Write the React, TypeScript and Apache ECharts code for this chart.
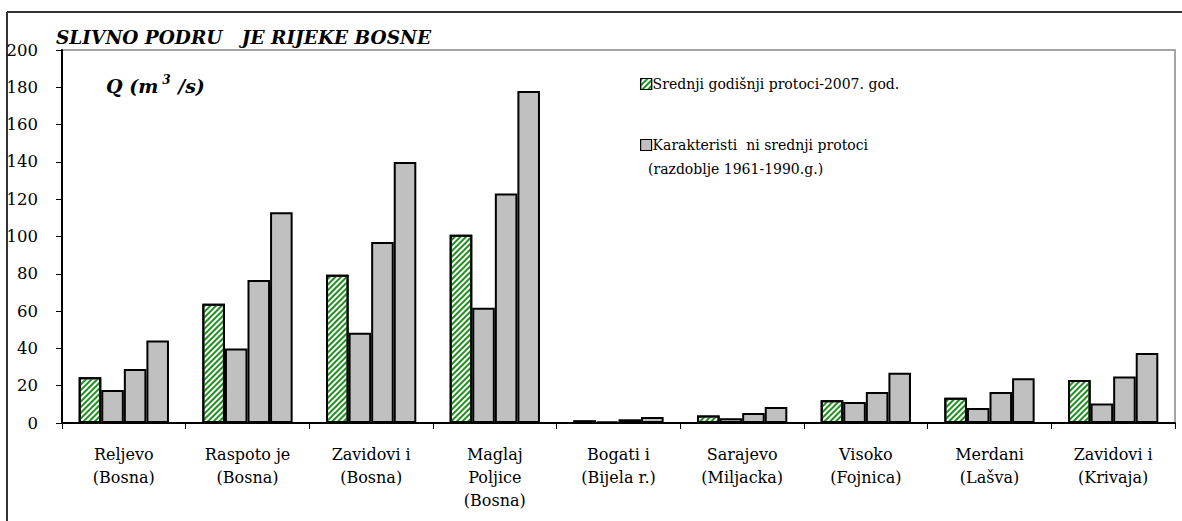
import React, { useEffect, useRef } from "react";
import * as echarts from "echarts";

const categories = [
  "Reljevo\n(Bosna)",
  "Raspoto je\n(Bosna)",
  "Zavidovi i\n(Bosna)",
  "Maglaj\nPoljice\n(Bosna)",
  "Bogati i\n(Bijela r.)",
  "Sarajevo\n(Miljacka)",
  "Visoko\n(Fojnica)",
  "Merdani\n(Lašva)",
  "Zavidovi i\n(Krivaja)",
];
const mean2007 = [24.5, 64, 79.5, 101, 1.4, 4, 12.2, 13.5, 23];
const charLow = [17.7, 40, 48.4, 61.8, 0.9, 2.5, 11.2, 8, 10.4];
const charMean = [29, 76.7, 97, 123, 2, 5.4, 16.6, 16.6, 25];
const charHigh = [44.2, 113, 140, 178, 3.2, 8.6, 27, 24, 37.5];
const name2007 = "Srednji godišnji protoci-2007. god.";
const nameChar = "Karakteristi  ni srednji protoci";
const nameChar2 = "(razdoblje 1961-1990.g.)";
const titleText = "SLIVNO PODRU   JE RIJEKE BOSNE";

const FONT = "DejaVu Serif";

export default function App() {
  const ref = useRef<HTMLDivElement>(null);
  useEffect(() => {
    if (!ref.current) return;
    const chart = echarts.init(ref.current, null, { renderer: "svg" });
    const grayStyle = { color: "#c0c0c0", borderColor: "#000", borderWidth: 2 };
    const grayBar = (data: number[]) => ({
      type: "bar",
      name: nameChar,
      data,
      barGap: "0%",
      barCategoryGap: "27%",
      itemStyle: grayStyle,
    });
    const legendText = { fontFamily: FONT, fontSize: 14, color: "#000", padding: [0, 0, 0, -4] };
    chart.setOption({
      animation: false,
      textStyle: { fontFamily: FONT },
      grid: {
        left: 62,
        top: 50,
        right: 7,
        bottom: 98,
        show: true,
        borderColor: "#888",
        borderWidth: 1.5,
      },
      title: {
        text: titleText,
        left: 56,
        top: 28,
        padding: 0,
        textStyle: {
          fontFamily: FONT,
          fontSize: 18.5,
          fontStyle: "italic",
          fontWeight: "bold",
          color: "#000",
        },
      },
      legend: [
        {
          left: 635,
          top: 72,
          itemWidth: 11,
          itemHeight: 11,
          icon: "rect",
          data: [name2007],
          selectedMode: false,
          itemStyle: { borderWidth: 1.2 },
          textStyle: legendText,
        },
        {
          left: 635,
          top: 133,
          itemWidth: 11,
          itemHeight: 11,
          icon: "rect",
          data: [nameChar],
          selectedMode: false,
          itemStyle: { borderWidth: 1.2 },
          textStyle: legendText,
        },
      ],
      graphic: [
        {
          type: "line",
          shape: { x1: 7, y1: 12, x2: 1182, y2: 12 },
          style: { stroke: "#333", lineWidth: 2 },
        },
        {
          type: "line",
          shape: { x1: 7, y1: 12, x2: 7, y2: 521 },
          style: { stroke: "#333", lineWidth: 2 },
        },
        {
          type: "text",
          left: 648,
          top: 162,
          style: { text: nameChar2, fontFamily: FONT, fontSize: 14, fill: "#000" },
        },
        {
          type: "text",
          left: 106,
          top: 74,
          style: {
            text: "{q|Q (m}{sup|3}{q| /s)}",
            rich: {
              q: { fontFamily: FONT, fontSize: 19, fontStyle: "italic", fontWeight: "bold", fill: "#000" },
              sup: {
                fontFamily: FONT,
                fontSize: 12,
                fontStyle: "italic",
                fontWeight: "bold",
                fill: "#000",
                padding: [0, 1, 12, 4],
              },
            },
          },
        },
      ],
      xAxis: {
        type: "category",
        data: categories,
        boundaryGap: true,
        axisLine: { lineStyle: { color: "#000", width: 2 } },
        axisTick: { show: true, length: 6, lineStyle: { color: "#000", width: 1 } },
        axisLabel: {
          interval: 0,
          fontFamily: FONT,
          fontSize: 16,
          color: "#000",
          lineHeight: 23,
          margin: 20,
        },
      },
      yAxis: {
        type: "value",
        min: 0,
        max: 200,
        interval: 20,
        axisLine: { show: true, lineStyle: { color: "#000", width: 2 } },
        axisTick: { show: true, length: 6, lineStyle: { color: "#000", width: 1 } },
        splitLine: { show: false },
        axisLabel: { fontFamily: FONT, fontSize: 16.5, color: "#000", margin: 24 },
      },
      series: [
        {
          type: "bar",
          name: name2007,
          data: mean2007,
          barGap: "0%",
          barCategoryGap: "27%",
          itemStyle: {
            color: "#ffffff",
            borderColor: "#000",
            borderWidth: 2,
            decal: {
              symbol: "rect",
              symbolSize: 1,
              color: "#1f8f1f",
              dashArrayX: [1, 0],
              dashArrayY: [2, 2],
              rotation: -Math.PI / 4,
            },
          },
        },
        grayBar(charLow),
        grayBar(charMean),
        grayBar(charHigh),
      ],
    });
    return () => chart.dispose();
  }, []);
  return (
    <div
      ref={ref}
      style={{ position: "fixed", left: 0, top: 0, width: 1182, height: 521, background: "#fff" }}
    />
  );
}
